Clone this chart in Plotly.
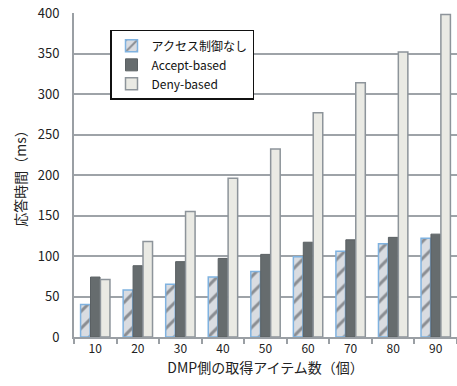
import plotly.graph_objects as go

# Number of items fetched on the DMP side
categories = ["10", "20", "30", "40", "50", "60", "70", "80", "90"]

# Response time (ms) per access-control scheme
no_control = [40, 58, 65, 74, 81, 99, 106, 115, 122]
accept_based = [74, 88, 93, 97, 102, 117, 120, 123, 127]
deny_based = [71, 118, 155, 196, 232, 277, 314, 352, 398]

series_names = ["アクセス制御なし", "Accept-based", "Deny-based"]
y_ticks = [0, 50, 100, 150, 200, 250, 300, 350, 400]

font_family = "Noto Sans CJK JP, Noto Sans, sans-serif"

fig = go.Figure()

fig.add_trace(go.Bar(
    x=categories, y=no_control, name=series_names[0],
    marker=dict(
        color="#d3d6db",
        line=dict(color="#7fb2e0", width=1.5),
        pattern=dict(shape="/", fgcolor="#3b3e44", bgcolor="#d9dce1",
                     size=12, solidity=0.25),
    ),
))
fig.add_trace(go.Bar(
    x=categories, y=accept_based, name=series_names[1],
    marker=dict(color="#666c6e", line=dict(color="#5a6063", width=1)),
))
fig.add_trace(go.Bar(
    x=categories, y=deny_based, name=series_names[2],
    marker=dict(color="#eaeae4", line=dict(color="#8d949a", width=1.5)),
))

fig.update_layout(
    width=457, height=386,
    margin=dict(l=74, r=0, t=13, b=49),
    paper_bgcolor="white", plot_bgcolor="white",
    barmode="group", bargap=0.3, bargroupgap=0.04,
    font=dict(family=font_family, color="#222222", size=12),
    showlegend=True,
    legend=dict(
        x=0.094, y=0.948, xanchor="left", yanchor="top",
        bgcolor="white", bordercolor="#111111", borderwidth=1.5,
        font=dict(size=12, color="#111111"),
        itemwidth=30, tracegroupgap=0,
    ),
)

fig.update_xaxes(
    type="category", range=[-0.5, 8.5],
    showline=True, linecolor="#9a9fa4", linewidth=2,
    ticks="outside", tickson="boundaries", ticklen=5, tickwidth=2,
    tickcolor="#9a9fa4", showgrid=False,
    tickfont=dict(size=12, color="#222222"),
    title=dict(text="DMP側の取得アイテム数（個）", font=dict(size=14, color="#222222"),
               standoff=8),
)
fig.update_yaxes(
    range=[0, 400], tickvals=y_ticks,
    showline=True, linecolor="#9a9fa4", linewidth=2,
    showgrid=True, gridcolor="#9ea3a8", gridwidth=2,
    zeroline=False,
    ticks="", ticklabelstandoff=10,
    tickfont=dict(size=13, color="#222222"),
    title=dict(text="応答時間（ms）", font=dict(size=14, color="#222222"), standoff=8),
)

fig.write_html("out.html")
